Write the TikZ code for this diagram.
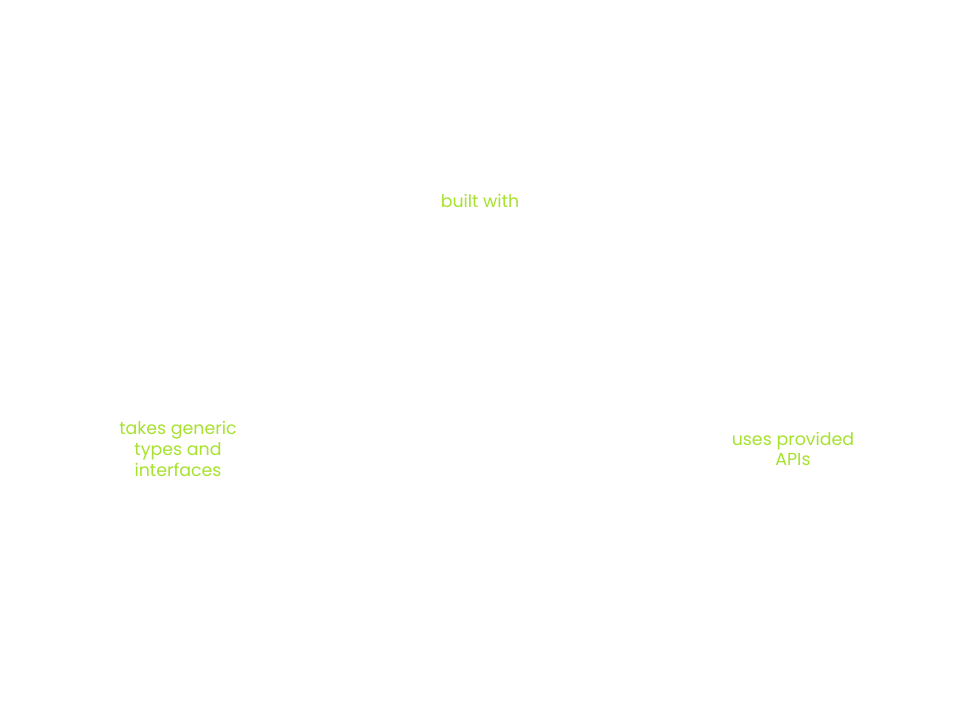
\documentclass[tikz,border=0pt]{standalone}
\usepackage{fontspec}
\setmainfont{Poppins}
\definecolor{lime}{HTML}{A6E22E}
\begin{document}
\begin{tikzpicture}[x=1pt, y=-1pt,
		lbl/.style = {text=lime, align=center, font=\fontsize{17.4}{20.6}\selectfont, inner sep=0pt}]
	\useasboundingbox[fill=white] (0,0) rectangle (960,720);
	\node[lbl] (built) at (480,201) {built with};
	\node[lbl] (takes) at (178,449) {takes generic\\types and\\interfaces};
	\node[lbl] (uses) at (793,449) {uses provided\\APIs};
\end{tikzpicture}
\end{document}
